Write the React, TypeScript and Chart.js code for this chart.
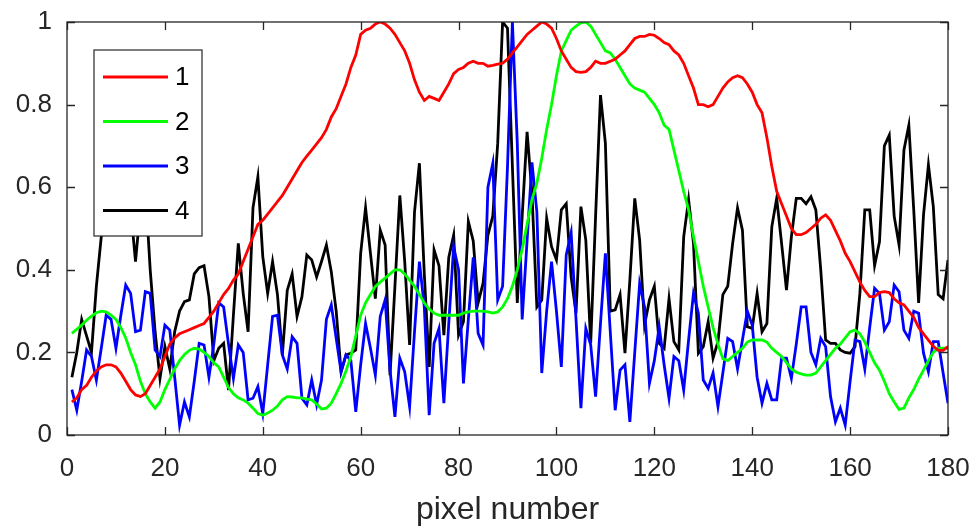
import React, { useEffect, useRef } from "react";
import { Chart, registerables } from "chart.js";

Chart.register(...registerables);

const seriesLabels = ["1", "2", "3", "4"];
const seriesColors = ["#ff0000", "#00ff00", "#0000ff", "#000000"];
const xTitle = "pixel number";

const series1 = [
  0.08, 0.09, 0.11, 0.12, 0.14, 0.155, 0.165, 0.17, 0.17, 0.165,
  0.15, 0.13, 0.11, 0.097, 0.093, 0.1, 0.12, 0.14, 0.16, 0.19,
  0.22, 0.235, 0.245, 0.25, 0.255, 0.26, 0.265, 0.27, 0.285, 0.3,
  0.32, 0.34, 0.355, 0.375, 0.39, 0.42, 0.45, 0.48, 0.51, 0.52,
  0.535, 0.55, 0.565, 0.58, 0.6, 0.62, 0.64, 0.66, 0.675, 0.69,
  0.705, 0.72, 0.74, 0.77, 0.79, 0.82, 0.85, 0.89, 0.92, 0.97,
  0.98, 0.985, 0.995, 1.0, 0.995, 0.985, 0.97, 0.95, 0.93, 0.9,
  0.86, 0.83, 0.81, 0.82, 0.815, 0.81, 0.83, 0.85, 0.875, 0.885,
  0.89, 0.9, 0.905, 0.9, 0.9, 0.893, 0.895, 0.898, 0.9, 0.91,
  0.925, 0.94, 0.955, 0.97, 0.98, 0.99, 1.0, 0.995, 0.985, 0.96,
  0.93, 0.91, 0.89, 0.88, 0.878, 0.88, 0.89, 0.905, 0.9, 0.9,
  0.905, 0.91, 0.92, 0.93, 0.945, 0.96, 0.965, 0.965, 0.97, 0.968,
  0.96, 0.95, 0.945, 0.93, 0.92, 0.9, 0.87, 0.84, 0.8, 0.8,
  0.795, 0.8, 0.82, 0.84, 0.855, 0.865, 0.87, 0.865, 0.85, 0.83,
  0.8, 0.78, 0.72, 0.65, 0.59, 0.56, 0.53, 0.5, 0.485, 0.485,
  0.49, 0.5, 0.51, 0.525, 0.533, 0.52, 0.495, 0.47, 0.44, 0.42,
  0.395, 0.37, 0.35, 0.335, 0.335, 0.345, 0.347, 0.345, 0.33, 0.32,
  0.315, 0.3, 0.285, 0.26, 0.245, 0.23, 0.215, 0.205, 0.205, 0.214,
];

const series2 = [
  0.246, 0.256, 0.266, 0.278, 0.288, 0.296, 0.3, 0.298, 0.29, 0.28,
  0.26, 0.235, 0.2, 0.17, 0.13, 0.1, 0.08, 0.065, 0.08, 0.11,
  0.135, 0.16, 0.18, 0.195, 0.205, 0.21, 0.208, 0.2, 0.19, 0.175,
  0.165, 0.14, 0.115, 0.1, 0.09, 0.085, 0.077, 0.065, 0.052, 0.048,
  0.053, 0.06, 0.07, 0.085, 0.093, 0.092, 0.09, 0.09, 0.087, 0.085,
  0.075, 0.063, 0.065, 0.077, 0.1, 0.125, 0.155, 0.19, 0.24, 0.29,
  0.32, 0.34, 0.36, 0.37, 0.38, 0.39, 0.4, 0.4, 0.39, 0.375,
  0.36, 0.34, 0.32, 0.305, 0.295, 0.29, 0.29, 0.29, 0.29, 0.29,
  0.295, 0.298, 0.3, 0.3, 0.3, 0.298, 0.295, 0.298, 0.31, 0.33,
  0.36, 0.4, 0.45, 0.51, 0.57, 0.61, 0.67, 0.74, 0.8, 0.87,
  0.93, 0.955, 0.98, 0.99, 0.998, 1.0, 0.99, 0.97, 0.95, 0.93,
  0.925, 0.91, 0.89, 0.87, 0.85, 0.84, 0.835, 0.83, 0.815, 0.8,
  0.78, 0.75, 0.74, 0.69, 0.64, 0.59, 0.545, 0.48, 0.42, 0.36,
  0.31, 0.26, 0.22, 0.185, 0.18, 0.19, 0.2, 0.21, 0.225, 0.23,
  0.23, 0.23, 0.225, 0.21, 0.2, 0.19, 0.175, 0.16, 0.152, 0.148,
  0.145, 0.145, 0.15, 0.165, 0.18, 0.195, 0.21, 0.22, 0.235, 0.25,
  0.254, 0.245, 0.225, 0.2, 0.175, 0.157, 0.13, 0.1, 0.08, 0.062,
  0.065, 0.09, 0.11, 0.135, 0.157, 0.18, 0.2, 0.21, 0.21, 0.21,
];

const series3 = [
  0.11, 0.06, 0.13, 0.206, 0.19, 0.133, 0.21, 0.29, 0.28, 0.21,
  0.29, 0.363, 0.343, 0.25, 0.254, 0.347, 0.343, 0.206, 0.19, 0.266,
  0.254, 0.14, 0.024, 0.08, 0.044, 0.13, 0.222, 0.218, 0.14, 0.22,
  0.32, 0.31, 0.22, 0.137, 0.218, 0.2, 0.085, 0.089, 0.117, 0.052,
  0.17, 0.287, 0.29, 0.194, 0.16, 0.238, 0.222, 0.089, 0.073, 0.133,
  0.073, 0.133, 0.28, 0.315, 0.234, 0.153, 0.194, 0.18, 0.056, 0.17,
  0.27, 0.21, 0.145, 0.287, 0.327, 0.157, 0.044, 0.186, 0.153, 0.069,
  0.25, 0.42, 0.31, 0.048, 0.222, 0.258, 0.077, 0.27, 0.456, 0.4,
  0.125, 0.28, 0.43, 0.246, 0.218, 0.6, 0.658, 0.327, 0.36, 0.65,
  1.0, 0.706, 0.28, 0.47, 0.66, 0.54, 0.15, 0.3, 0.42, 0.3,
  0.165, 0.436, 0.49, 0.28, 0.065, 0.258, 0.218, 0.093, 0.27, 0.44,
  0.25, 0.06, 0.157, 0.17, 0.032, 0.2, 0.367, 0.31, 0.125, 0.18,
  0.262, 0.17, 0.089, 0.19, 0.18, 0.109, 0.23, 0.343, 0.295, 0.133,
  0.113, 0.15, 0.069, 0.15, 0.234, 0.226, 0.16, 0.23, 0.3, 0.266,
  0.14, 0.077, 0.125, 0.085, 0.085, 0.186, 0.186, 0.137, 0.22, 0.31,
  0.31, 0.2, 0.17, 0.234, 0.214, 0.093, 0.032, 0.065, 0.024, 0.13,
  0.23, 0.226, 0.16, 0.26, 0.355, 0.343, 0.254, 0.274, 0.363, 0.347,
  0.254, 0.234, 0.3, 0.295, 0.198, 0.153, 0.226, 0.226, 0.15, 0.077,
];

const series4 = [
  0.14, 0.2, 0.28, 0.24, 0.2, 0.36, 0.48, 0.6, 0.52, 0.5,
  0.58, 0.65, 0.55, 0.42, 0.55, 0.6, 0.4, 0.25, 0.137, 0.214,
  0.16, 0.25, 0.3, 0.323, 0.327, 0.39, 0.405, 0.41, 0.335, 0.18,
  0.21, 0.222, 0.109, 0.29, 0.464, 0.343, 0.25, 0.55, 0.625, 0.432,
  0.343, 0.42, 0.34, 0.194, 0.35, 0.39, 0.287, 0.335, 0.436, 0.424,
  0.383, 0.42, 0.46, 0.395, 0.3, 0.153, 0.194, 0.198, 0.206, 0.44,
  0.55, 0.44, 0.33, 0.496, 0.46, 0.145, 0.36, 0.58, 0.42, 0.218,
  0.54, 0.658, 0.39, 0.165, 0.448, 0.41, 0.242, 0.43, 0.484, 0.242,
  0.274, 0.517, 0.47, 0.32, 0.367, 0.484, 0.53, 0.706, 1.0, 0.985,
  0.65, 0.32, 0.53, 0.734, 0.585, 0.31, 0.327, 0.525, 0.456, 0.424,
  0.545, 0.56, 0.383, 0.295, 0.553, 0.472, 0.222, 0.53, 0.823, 0.706,
  0.3, 0.303, 0.34, 0.198, 0.375, 0.573, 0.472, 0.266, 0.327, 0.36,
  0.222, 0.21, 0.33, 0.226, 0.206, 0.48, 0.57, 0.464, 0.198, 0.214,
  0.274, 0.186, 0.226, 0.34, 0.36, 0.464, 0.55, 0.496, 0.262, 0.258,
  0.343, 0.25, 0.27, 0.504, 0.573, 0.464, 0.351, 0.48, 0.573, 0.573,
  0.56, 0.577, 0.545, 0.4, 0.23, 0.222, 0.222, 0.206, 0.2, 0.198,
  0.214, 0.343, 0.545, 0.545, 0.41, 0.468, 0.7, 0.726, 0.53, 0.46,
  0.69, 0.75, 0.545, 0.32, 0.533, 0.654, 0.553, 0.34, 0.33, 0.424,
];

const allSeries = [series1, series2, series3, series4];

const FONT = "'Liberation Sans', Arial, Helvetica, sans-serif";
const AXIS_COLOR = "#262626";

const framePlugin = {
  id: "matlabFrame",
  afterDraw(chart: any) {
    const { ctx, chartArea, scales } = chart;
    const { left, right, top, bottom } = chartArea;
    const xs = scales.x;
    const ys = scales.y;
    ctx.save();
    ctx.strokeStyle = AXIS_COLOR;
    ctx.lineWidth = 1.3;
    const tl = 8;
    ctx.beginPath();
    xs.ticks.forEach((t: any) => {
      const px = Math.round(xs.getPixelForValue(t.value)) + 0.5;
      ctx.moveTo(px, bottom);
      ctx.lineTo(px, bottom - tl);
      ctx.moveTo(px, top);
      ctx.lineTo(px, top + tl);
    });
    ys.ticks.forEach((t: any) => {
      const py = Math.round(ys.getPixelForValue(t.value)) + 0.5;
      ctx.moveTo(left, py);
      ctx.lineTo(left + tl, py);
      ctx.moveTo(right, py);
      ctx.lineTo(right - tl, py);
    });
    ctx.stroke();

    // legend box
    const bx = left + 27;
    const by = top + 28;
    const bw = 108;
    const bh = 186;
    ctx.fillStyle = "#ffffff";
    ctx.fillRect(bx, by, bw, bh);
    ctx.lineWidth = 1.2;
    ctx.strokeStyle = AXIS_COLOR;
    ctx.strokeRect(bx, by, bw, bh);
    const rows = [27, 71.5, 116, 160.5];
    chart.data.datasets.forEach((ds: any, i: number) => {
      const ry = by + rows[i];
      ctx.strokeStyle = ds.borderColor;
      ctx.lineWidth = 2.8;
      ctx.beginPath();
      ctx.moveTo(bx + 9, ry);
      ctx.lineTo(bx + 74, ry);
      ctx.stroke();
      ctx.fillStyle = "#000000";
      ctx.font = `26px ${FONT}`;
      ctx.textAlign = "left";
      ctx.textBaseline = "middle";
      ctx.fillText(ds.label, bx + 81, ry + 1);
    });

    // frame
    ctx.strokeStyle = AXIS_COLOR;
    ctx.lineWidth = 1.3;
    ctx.strokeRect(left, top, right - left, bottom - top);
    ctx.restore();
  },
};

export default function App() {
  const canvasRef = useRef<HTMLCanvasElement | null>(null);

  useEffect(() => {
    document.body.style.margin = "0";
    const canvas = canvasRef.current;
    if (!canvas) return;
    const datasets = allSeries.map((vals, si) => ({
      label: seriesLabels[si],
      data: vals.map((v, i) => ({ x: i + 1, y: v })),
      borderColor: seriesColors[si],
      backgroundColor: seriesColors[si],
      borderWidth: 2.8,
      pointRadius: 0,
      tension: 0,
      fill: false,
    }));
    const chart = new Chart(canvas, {
      type: "line",
      data: { datasets },
      options: {
        animation: false,
        responsive: true,
        maintainAspectRatio: false,
        layout: { padding: { top: 22, right: 28, left: 0, bottom: 0 } },
        plugins: {
          legend: { display: false },
          tooltip: { enabled: false },
        },
        scales: {
          x: {
            type: "linear",
            min: 0,
            max: 180,
            grid: { display: false, drawTicks: false },
            border: { display: false },
            ticks: {
              stepSize: 20,
              color: AXIS_COLOR,
              font: { family: FONT, size: 26 },
              padding: 18,
              maxRotation: 0,
            },
            title: {
              display: true,
              text: xTitle,
              color: AXIS_COLOR,
              font: { family: FONT, size: 32 },
              padding: { top: 0, bottom: 0 },
            },
            afterFit: (scale: any) => {
              scale.height = 94;
              scale.paddingLeft = 0;
              scale.paddingRight = 0;
            },
          },
          y: {
            min: 0,
            max: 1,
            grid: { display: false, drawTicks: false },
            border: { display: false },
            ticks: {
              stepSize: 0.2,
              color: AXIS_COLOR,
              font: { family: FONT, size: 26 },
              padding: 15,
              callback: (v: any) => String(parseFloat(Number(v).toFixed(2))),
            },
            afterFit: (scale: any) => {
              scale.width = 67;
              scale.paddingTop = 0;
              scale.paddingBottom = 0;
            },
          },
        },
      },
      plugins: [framePlugin],
    });
    return () => chart.destroy();
  }, []);

  return (
    <div style={{ position: "relative", width: 976, height: 529 }}>
      <canvas ref={canvasRef} />
    </div>
  );
}
